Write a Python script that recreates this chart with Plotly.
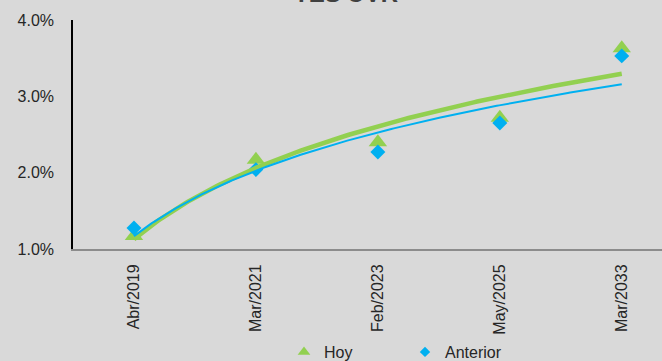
import numpy as np
import plotly.graph_objects as go

categories = ["Abr/2019", "Mar/2021", "Feb/2023", "May/2025", "Mar/2033"]
hoy = [1.17, 2.17, 2.40, 2.72, 3.63]
anterior = [1.275, 2.04, 2.27, 2.65, 3.53]
title_text = "TES UVR"

GREEN = "#92D050"
BLUE = "#00B0F0"
BG = "#D9D9D9"
TXT = "#262626"

xpos = list(range(len(categories)))


def log_trend(vals):
    n = np.arange(1, len(vals) + 1)
    b, a = np.polyfit(np.log(n), np.array(vals), 1)
    xs = np.linspace(1, len(vals), 200)
    return xs - 1, a + b * np.log(xs)


fig = go.Figure()
fig.add_trace(go.Scatter(x=xpos, y=hoy, mode="markers", name="Hoy", showlegend=False,
                         marker=dict(symbol="triangle-up", size=16, color=GREEN)))
fig.add_trace(go.Scatter(x=xpos, y=anterior, mode="markers", name="Anterior", showlegend=False,
                         marker=dict(symbol="diamond", size=11.5, color=BLUE)))
tx, ty = log_trend(hoy)
fig.add_trace(go.Scatter(x=tx, y=ty, mode="lines", showlegend=False,
                         line=dict(color=GREEN, width=4.5), hoverinfo="skip"))
tx, ty = log_trend(anterior)
fig.add_trace(go.Scatter(x=tx, y=ty, mode="lines", showlegend=False,
                         line=dict(color=BLUE, width=2), hoverinfo="skip"))
# legend entries (smaller legend symbols, as in the reference)
fig.add_trace(go.Scatter(x=[None], y=[None], mode="markers", name="Hoy",
                         marker=dict(symbol="triangle-up", size=11, color=GREEN)))
fig.add_trace(go.Scatter(x=[None], y=[None], mode="markers", name="Anterior",
                         marker=dict(symbol="diamond", size=8, color=BLUE)))

fig.update_layout(
    width=662, height=361,
    margin=dict(l=73, r=0, t=20, b=112, autoexpand=False),
    paper_bgcolor=BG, plot_bgcolor=BG,
    font=dict(family="Liberation Sans, Arial, sans-serif", size=16, color=TXT),
    showlegend=True,
    legend=dict(orientation="h", x=(284 - 73) / 589, xanchor="left",
                y=-(352 - 249) / 229, yanchor="middle",
                font=dict(size=16, color=TXT), bgcolor="rgba(0,0,0,0)",
                itemsizing="trace",
                entrywidth=76, entrywidthmode="pixels", tracegroupgap=0),
    annotations=[dict(text="<b>" + title_text + "</b>", xref="paper", yref="paper",
                      x=(346 - 73) / 589, y=1.047, xanchor="center", yanchor="bottom",
                      showarrow=False, font=dict(size=24, color="#404040"))],
)
fig.update_xaxes(
    range=[-0.5, 4.33], tickmode="array", tickvals=xpos, ticktext=categories,
    tickangle=-90, showgrid=False, zeroline=False, showline=True, automargin=False,
    linecolor="#8C8C8C", linewidth=2, ticks="", ticklabelstandoff=7,
    tickfont=dict(size=16, color=TXT),
)
fig.update_yaxes(
    range=[1.0, 4.0], tickmode="array", tickvals=[1, 2, 3, 4],
    ticktext=["1.0%", "2.0%", "3.0%", "4.0%"], showgrid=False, zeroline=False,
    showline=True, linecolor="#000000", linewidth=1.5, ticks="", automargin=False,
    ticklabelstandoff=14, tickfont=dict(size=16, color=TXT),
)

fig.write_html("out.html")
